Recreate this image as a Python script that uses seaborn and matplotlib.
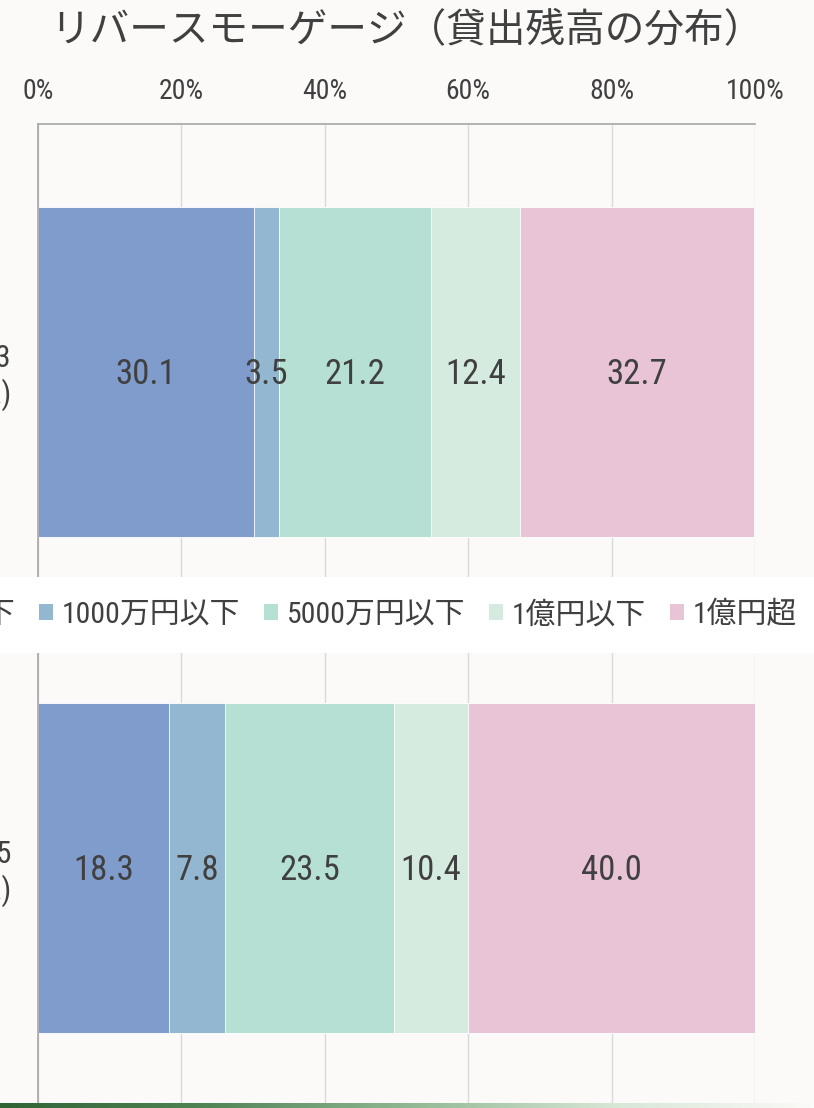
import numpy as np
import pandas as pd
import matplotlib
matplotlib.use("Agg")
import matplotlib.pyplot as plt
from matplotlib.colors import LinearSegmentedColormap
from matplotlib.ticker import PercentFormatter
from matplotlib.patches import Patch
import seaborn as sns

# ---- data -------------------------------------------------------------
periods = ["2013\n(年末)", "2015\n(年末)"]
bands = ["500万円以下", "1000万円以下", "5000万円以下", "1億円以下", "1億円超"]
share_2013 = [30.1, 3.5, 21.2, 12.4, 32.7]
share_2015 = [18.3, 7.8, 23.5, 10.4, 40.0]
band_colors = ["#7f9ccc", "#93b7d0", "#b6e0d3", "#d5ebe0", "#e9c3d6"]
title = "リバースモーゲージ（貸出残高の分布）"
x_ticks = [0, 20, 40, 60, 80, 100]

# ---- style ------------------------------------------------------------
sns.set_theme(style="white")
BG = "#fbfaf8"
INK = "#404040"
plt.rcParams["font.family"] = ["Roboto Condensed", "Noto Sans CJK JP", "DejaVu Sans"]
plt.rcParams["text.color"] = INK
plt.rcParams["axes.labelcolor"] = INK
plt.rcParams["xtick.color"] = INK
plt.rcParams["ytick.color"] = INK

df = pd.DataFrame({"period": np.repeat(periods, len(bands)),
                   "band": bands * len(periods),
                   "share": share_2013 + share_2015})
df["cum"] = df.groupby("period")["share"].cumsum()

W, H = 814, 1108
fig = plt.figure(figsize=(W / 100, H / 100), dpi=100, facecolor=BG)
ax = fig.add_axes([38 / W, 1 - 1116 / H, 717 / W, 992 / H])
ax.set_facecolor(BG)

# stacked bars: cumulative totals drawn from the outermost band inward
for band, color in reversed(list(zip(bands, band_colors))):
    sub = df[df["band"] == band]
    sns.barplot(data=sub, x="cum", y="period", order=periods, color=color,
                saturation=1, width=0.665, orient="h", edgecolor="white",
                linewidth=0.6, ax=ax, zorder=3)

# value labels at the middle of each segment
for _, row in df.iterrows():
    yi = periods.index(row["period"])
    ax.text(row["cum"] - row["share"] / 2, yi + 0.005, f"{row['share']:.1f}",
            ha="center", va="center", fontsize=25, color=INK, zorder=5)

ax.set_xlim(0, 100)
ax.set_ylim(1.5, -0.5)
ax.set_xticks(x_ticks)
ax.xaxis.set_major_formatter(PercentFormatter(decimals=0))
ax.xaxis.tick_top()
ax.tick_params(axis="x", length=0, pad=14, labelsize=20)
ax.tick_params(axis="y", length=0, pad=19, labelsize=22)
for lab in ax.get_yticklabels():
    lab.set_multialignment("right")
    lab.set_linespacing(1.15)
ax.set_xlabel("")
ax.set_ylabel("")
ax.grid(axis="x", color="#d9d9d9", linewidth=1, zorder=0)
ax.grid(axis="y", visible=False)
for side in ["right", "bottom"]:
    ax.spines[side].set_visible(False)
for side in ["top", "left"]:
    ax.spines[side].set_color("#a6a6a6")
    ax.spines[side].set_linewidth(1.2)
    ax.spines[side].set_zorder(4)

fig.suptitle(title, x=407 / W, y=1 - 30 / H, va="center", fontsize=28.5, color=INK)

handles = [Patch(facecolor=c, edgecolor="none") for c in band_colors]
leg = fig.legend(handles, bands, loc="center right",
                 bbox_to_anchor=(821 / W, 1 - 615 / H), ncol=5,
                 fontsize=21.5, frameon=True, handlelength=0.45, handleheight=0.45,
                 handletextpad=0.31, columnspacing=0.8, borderpad=0.8,
                 borderaxespad=0, fancybox=False)
leg.get_frame().set_facecolor("white")
leg.get_frame().set_edgecolor("none")
leg.get_frame().set_alpha(1)
leg.set_zorder(10)

# green accent strip along the bottom edge
strip = fig.add_axes([0, 0, 1, 5 / H])
strip_cmap = LinearSegmentedColormap.from_list(
    "strip", ["#2f6436", "#4f8455", "#8fb891", "#d6e6d5", "#fbfaf8"])
strip.imshow(np.linspace(0, 1, 256)[None, :], aspect="auto", cmap=strip_cmap)
strip.axis("off")

fig.savefig("out.png", dpi=100, facecolor=BG)
